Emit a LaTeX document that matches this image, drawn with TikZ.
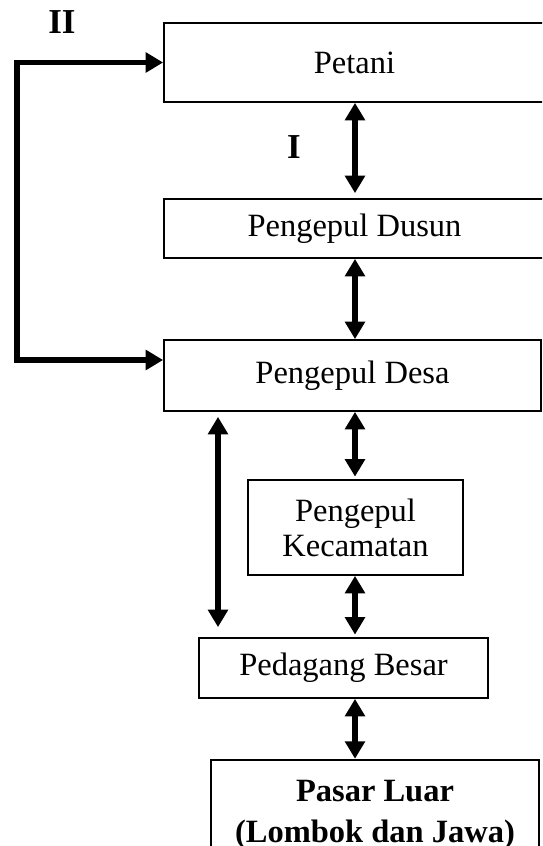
\documentclass[tikz,border=0pt]{standalone}
\usepackage{fontspec}
\setmainfont{Liberation Serif}
\usetikzlibrary{arrows.meta}
\begin{document}
\begin{tikzpicture}[x=0.4pt,y=-0.4pt,
  box/.style={draw,line width=0.7pt,align=center,inner sep=0pt,
    font=\fontsize{13}{14}\selectfont},
  dbl/.style={line width=2.3pt,{Triangle[width=7.8pt,length=7pt]}-{Triangle[width=7.8pt,length=7pt]}},
  lbl/.style={font=\fontsize{14}{16}\selectfont\bfseries}]
\useasboundingbox (0,0) rectangle (542,846);
\clip (0,0) rectangle (542,846);

\coordinate (ax) at (355,0);
\coordinate (lx) at (218,0);

\node[box,minimum width=152.4pt,minimum height=31.6pt] (petani) at (354.5,62.5) {Petani};
\node[box,minimum width=152.4pt,minimum height=23.6pt] (dusun) at (354.5,228.5) {Pengepul Dusun};
\node[box,minimum width=150.8pt,minimum height=28.4pt] (desa) at (352.5,375.5) {Pengepul Desa};
\node[box,minimum width=86pt,minimum height=38pt] (kec) at (355.5,527.5) {Pengepul\\Kecamatan};
\node[box,minimum width=115.6pt,minimum height=24pt] (besar) at (343.5,668) {Pedagang Besar};
\node[box,line width=1pt,minimum width=131.2pt,minimum height=44pt,font=\fontsize{13}{16.4}\selectfont\bfseries] (pasar) at (375,815) {Pasar Luar\\(Lombok dan Jawa)};

\node[lbl] (satu) at (294,147) {I};
\node[lbl] (dua) at (62,22) {II};

\draw[dbl,shorten >=2pt] (petani.south -| ax) -- (dusun.north -| ax);
\draw[dbl] (dusun.south -| ax) -- (desa.north -| ax);
\draw[dbl,shorten >=1pt] (desa.south -| ax) -- (kec.north -| ax);
\draw[dbl,shorten >=1pt] (kec.south -| ax) -- (besar.north -| ax);
\draw[dbl] (besar.south -| ax) -- (pasar.north -| ax);
\draw[dbl,shorten <=2pt,shorten >=4pt] (desa.south -| lx) -- (besar.north -| lx);
\draw[dbl] ([yshift=6.2pt]desa.west) -- ++(-146,0) |- (petani.west);
\end{tikzpicture}
\end{document}
